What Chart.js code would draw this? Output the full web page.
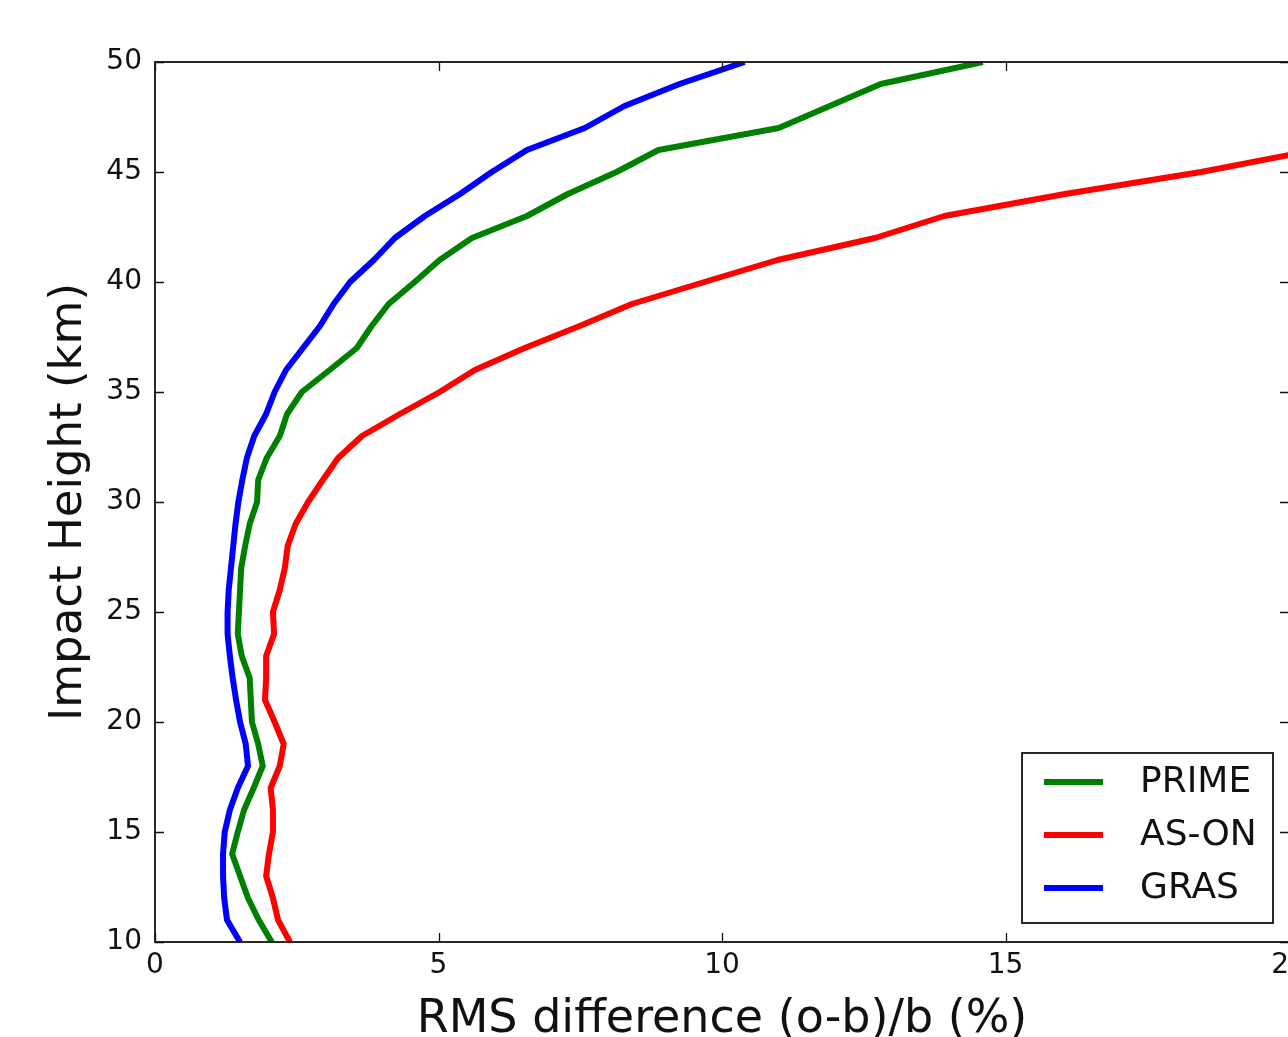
<!DOCTYPE html>
<html>
<head>
<meta charset="utf-8">
<script src="https://cdn.jsdelivr.net/npm/chart.js@4.4.1/dist/chart.umd.min.js"></script>
<style>
  html, body { margin: 0; padding: 0; background: #fff; overflow: hidden; width: 1288px; height: 1037px; }
  #wrap { position: absolute; left: 0; top: 0; width: 1340px; height: 1060px; }
</style>
</head>
<body>
<div id="wrap"><canvas id="c" width="1340" height="1060"></canvas></div>
<script>
// Impact heights (km)
const heights = [10,11,12,13,14,15,16,17,18,19,20,21,22,23,24,25,26,27,28,29,30,
                 31,32,33,34,35,36,37,38,39,40,41,42,43,44,45,46,47,48,49,50];
// RMS difference (o-b)/b (%)
const prime = [2.06,1.83,1.64,1.50,1.36,1.46,1.57,1.74,1.90,1.82,1.71,1.69,1.67,1.53,1.46,1.48,1.50,1.52,1.59,1.67,1.80,
               1.82,1.97,2.20,2.33,2.59,3.08,3.56,3.82,4.12,4.58,5.02,5.59,6.56,7.28,8.14,8.88,11.0,11.9,12.8,14.6];
const ason  = [2.38,2.17,2.08,1.96,2.01,2.08,2.08,2.04,2.20,2.27,2.11,1.94,1.96,1.96,2.10,2.08,2.20,2.29,2.34,2.48,2.70,
               2.96,3.23,3.65,4.32,5.02,5.64,6.52,7.49,8.41,9.69,10.98,12.7,13.92,16.05,18.45,20.45];
const gras  = [1.50,1.27,1.22,1.20,1.20,1.23,1.32,1.46,1.64,1.60,1.50,1.43,1.37,1.32,1.28,1.28,1.30,1.34,1.38,1.42,1.47,
               1.54,1.62,1.75,1.96,2.11,2.31,2.61,2.91,3.15,3.44,3.86,4.23,4.76,5.38,5.94,6.56,7.58,8.28,9.25,10.4];
const xTicks = [0,5,10,15,20];
const yTicks = [10,15,20,25,30,35,40,45,50];
const seriesNames = ['PRIME','AS-ON','GRAS'];
const seriesColors = ['#008000','#ff0000','#0000ff'];

function pts(vals){ return vals.map((v,i)=>({x:v, y:heights[i]})); }

const FONT = 'DejaVu Sans';

const framePlugin = {
  id: 'frame',
  afterDatasetsDraw(chart){
    const {ctx, chartArea:a, scales:{x, y}} = chart;
    ctx.save();
    ctx.strokeStyle = '#111';
    ctx.lineWidth = 1.8;
    ctx.strokeRect(a.left, a.top, a.right - a.left, a.bottom - a.top);
    ctx.lineWidth = 1.3;
    const tl = 9;
    ctx.beginPath();
    xTicks.forEach(v=>{
      const px = Math.round(x.getPixelForValue(v)) + 0.5;
      ctx.moveTo(px, a.bottom); ctx.lineTo(px, a.bottom - tl);
      ctx.moveTo(px, a.top); ctx.lineTo(px, a.top + tl);
    });
    yTicks.forEach(v=>{
      const py = Math.round(y.getPixelForValue(v)) + 0.5;
      ctx.moveTo(a.left, py); ctx.lineTo(a.left + tl, py);
      ctx.moveTo(a.right, py); ctx.lineTo(a.right - tl, py);
    });
    ctx.stroke();

    // legend
    const bx = 1022, by = 753, bw = 251, bh = 170;
    ctx.fillStyle = '#fff';
    ctx.fillRect(bx, by, bw, bh);
    ctx.strokeStyle = '#111';
    ctx.lineWidth = 1.8;
    ctx.strokeRect(bx, by, bw, bh);
    const rows = [782, 835, 888];
    ctx.font = '36px "' + FONT + '"';
    ctx.textBaseline = 'middle';
    ctx.textAlign = 'left';
    chart.data.datasets.forEach((ds, i)=>{
      ctx.strokeStyle = ds.borderColor;
      ctx.lineWidth = 6;
      ctx.beginPath();
      ctx.moveTo(1044, rows[i]); ctx.lineTo(1103, rows[i]);
      ctx.stroke();
      ctx.fillStyle = '#111';
      ctx.fillText(ds.label, 1140, rows[i] + 1);
    });
    ctx.restore();
  }
};

new Chart(document.getElementById('c'), {
  type: 'scatter',
  data: {
    datasets: [
      {label: seriesNames[0], data: pts(prime), borderColor: seriesColors[0]},
      {label: seriesNames[1], data: pts(ason),  borderColor: seriesColors[1]},
      {label: seriesNames[2], data: pts(gras),  borderColor: seriesColors[2]}
    ].map(d=>Object.assign(d, {showLine:true, borderWidth:6, pointRadius:0, tension:0,
                                borderJoinStyle:'round', borderCapStyle:'butt', backgroundColor:d.borderColor}))
  },
  options: {
    responsive: false,
    animation: false,
    devicePixelRatio: 1,
    layout: { padding: { left: 0, top: 62, right: 51, bottom: 0 } },
    plugins: { legend: { display: false }, tooltip: { enabled: false } },
    scales: {
      x: {
        type: 'linear', min: 0, max: 20,
        afterBuildTicks(s){ s.ticks = xTicks.map(v=>({value:v})); },
        afterFit(s){ s.height = 118; },
        grid: { display: false, drawTicks: false },
        border: { display: false },
        ticks: { font: { family: FONT, size: 28 }, color: '#111', padding: 7, maxRotation: 0, autoSkip: false },
        title: { display: true, text: 'RMS difference (o-b)/b (%)', font: { family: FONT, size: 46 }, color: '#111', padding: { top: 0, bottom: 12 } }
      },
      y: {
        type: 'linear', min: 10, max: 50,
        afterBuildTicks(s){ s.ticks = yTicks.map(v=>({value:v})); },
        afterFit(s){ s.width = 155; },
        grid: { display: false, drawTicks: false },
        border: { display: false },
        ticks: { font: { family: FONT, size: 28 }, color: '#111', padding: 13, autoSkip: false },
        title: { display: true, text: 'Impact Height (km)', font: { family: FONT, size: 45 }, color: '#111', padding: { top: 42, bottom: 0 } }
      }
    }
  },
  plugins: [framePlugin]
});
</script>
</body>
</html>
